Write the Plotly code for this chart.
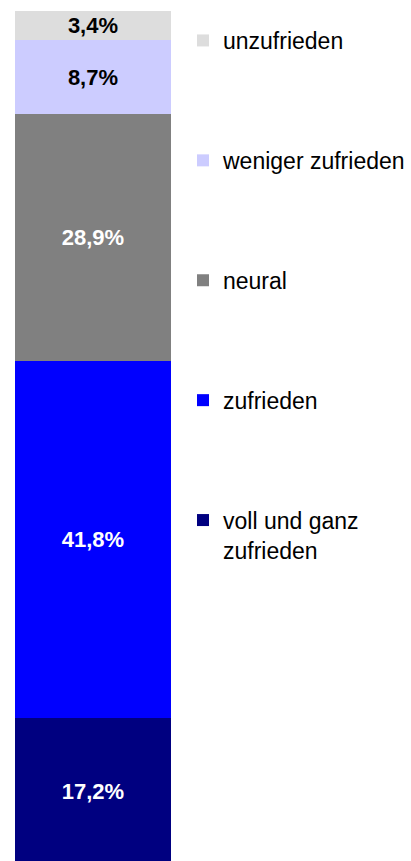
import plotly.graph_objects as go

# Satisfaction shares (percent), stacked from the bottom up
categories = ["voll und ganz<br>zufrieden", "zufrieden", "neural", "weniger zufrieden", "unzufrieden"]
shares = [17.2, 41.8, 28.9, 8.7, 3.4]
colors = ["#000080", "#0000FF", "#808080", "#CCCCFF", "#DDDDDD"]
label_colors = ["white", "white", "white", "black", "black"]
legend_ranks = [5, 4, 3, 2, 1]

fig = go.Figure()
for name, val, col, lcol, rank in zip(categories, shares, colors, label_colors, legend_ranks):
    fig.add_trace(go.Bar(
        x=[0], y=[val], name=name, width=1,
        marker=dict(color=col, line=dict(width=0)),
        texttemplate="%{y:.1f}%", textposition="inside",
        insidetextanchor="middle", constraintext="none",
        textfont=dict(family="Liberation Sans", size=22, color=lcol, weight="bold"),
        legendgroup=name, legendrank=rank, hoverinfo="skip",
    ))

fig.update_layout(
    width=411, height=861,
    margin=dict(l=0, r=0, t=0, b=0),
    barmode="stack",
    separators=",.",
    paper_bgcolor="white", plot_bgcolor="white",
    showlegend=True,
    legend=dict(
        x=183 / 411, y=1 - 19 / 861, xanchor="left", yanchor="top",
        traceorder="grouped", tracegroupgap=87, valign="top",
        font=dict(family="Liberation Sans", size=23, color="black"),
        bgcolor="rgba(0,0,0,0)", borderwidth=0,
        itemclick=False, itemdoubleclick=False,
    ),
    xaxis=dict(range=[-0.596, 2.039], visible=False, fixedrange=True),
    yaxis=dict(range=[0.47, 101.29], visible=False, fixedrange=True),
)

fig.write_html("out.html")
